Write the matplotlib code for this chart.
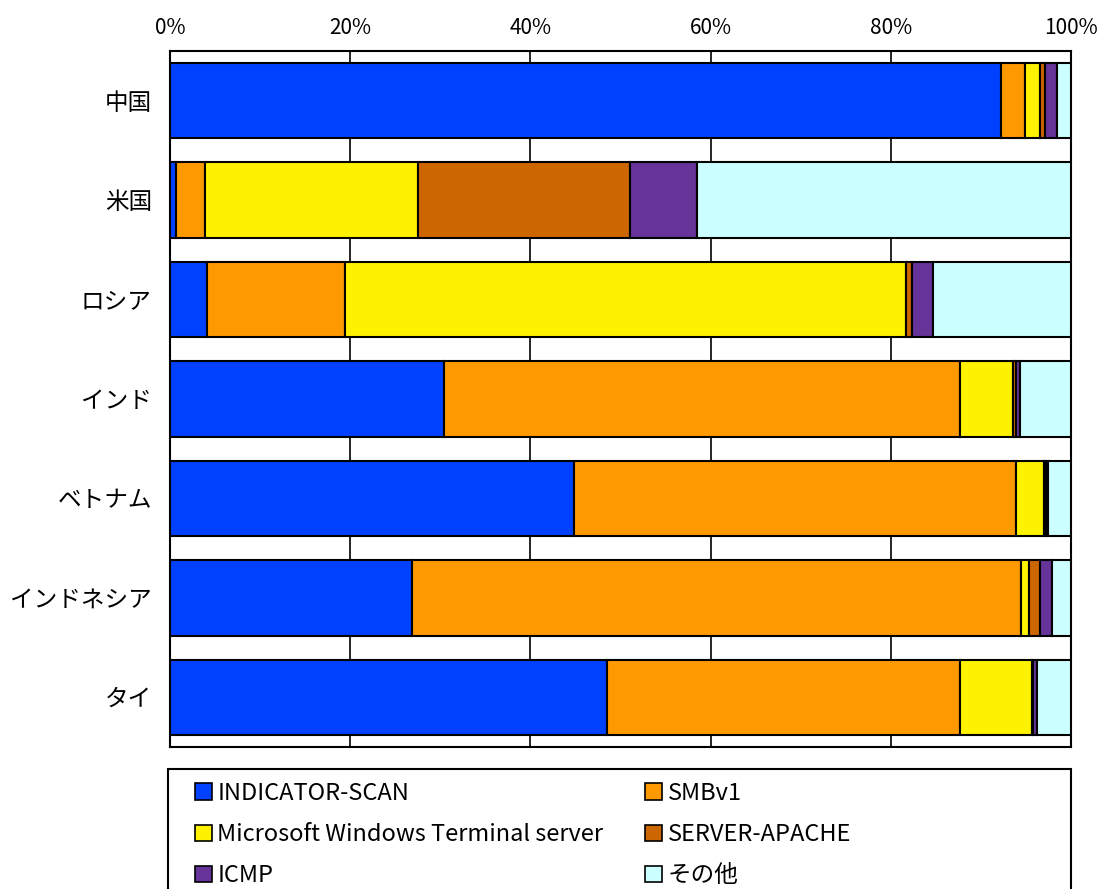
import matplotlib
matplotlib.use("Agg")
import matplotlib.pyplot as plt
from matplotlib.patches import Patch, Rectangle
import numpy as np

plt.rcParams['font.family'] = ['Noto Sans CJK JP', 'DejaVu Sans']

countries = ["中国", "米国", "ロシア", "インド", "ベトナム", "インドネシア", "タイ"]
series = ["INDICATOR-SCAN", "SMBv1", "Microsoft Windows Terminal server",
          "SERVER-APACHE", "ICMP", "その他"]
colors = ["#0041FF", "#FF9900", "#FFF200", "#CC6600", "#663399", "#CCFFFF"]

indicator_scan = [92.2, 0.7, 4.1, 30.4, 44.8, 26.9, 48.5]
smbv1 = [2.7, 3.2, 15.3, 57.3, 49.1, 67.5, 39.2]
terminal_server = [1.7, 23.6, 62.3, 5.9, 3.1, 0.9, 8.0]
server_apache = [0.5, 23.5, 0.7, 0.3, 0.2, 1.3, 0.1]
icmp = [1.3, 7.5, 2.3, 0.4, 0.2, 1.3, 0.4]
other = [1.6, 41.5, 15.3, 5.7, 2.6, 2.1, 3.8]

values = [indicator_scan, smbv1, terminal_server, server_apache, icmp, other]

W, H = 1106, 889
fig = plt.figure(figsize=(W / 100, H / 100), dpi=100)
ax = fig.add_axes([170 / W, 1 - 747 / H, (1071 - 170) / W, (747 - 51) / H])

y = np.arange(len(countries))
left = np.zeros(len(countries))
for name, vals, col in zip(series, values, colors):
    vals = np.array(vals)
    ax.barh(y, vals, left=left, height=0.76, color=col, edgecolor="black",
            linewidth=1.5, label=name, zorder=3)
    left += vals

ax.set_xlim(0, 100)
ax.set_ylim(len(countries) - 0.5, -0.5)
ax.set_xticks(np.arange(0, 101, 20))
ax.set_xticklabels([f"{v}%" for v in range(0, 101, 20)], fontsize=15)
ax.xaxis.tick_top()
ax.tick_params(axis="x", length=0, pad=9)
ax.set_yticks(y)
ax.set_yticklabels(countries, fontsize=17)
ax.tick_params(axis="y", length=0, pad=13)
ax.grid(axis="x", color="black", linewidth=1.2, zorder=1)
for s in ax.spines.values():
    s.set_linewidth(1.5)
    s.set_color("black")

# legend box
fig.patches.append(Rectangle((168 / W, -0.05), (1071 - 168) / W, 1 - 769 / H + 0.05,
                             transform=fig.transFigure, facecolor="white",
                             edgecolor="black", linewidth=1.5, clip_on=False))

handles = [Patch(facecolor=c, edgecolor="black", linewidth=1.2) for c in colors]
legend_kw = dict(loc="upper left", frameon=False, fontsize=17,
                 handlelength=0.7, handleheight=0.7, handletextpad=0.25,
                 labelspacing=0.77, borderpad=0, borderaxespad=0)
for idx, x0 in (([0, 2, 4], 195), ([1, 3, 5], 645)):
    leg = fig.legend([handles[i] for i in idx], [series[i] for i in idx],
                     bbox_to_anchor=(x0 / W, 1 - 782 / H), **legend_kw)

fig.savefig("out.png", dpi=100)
